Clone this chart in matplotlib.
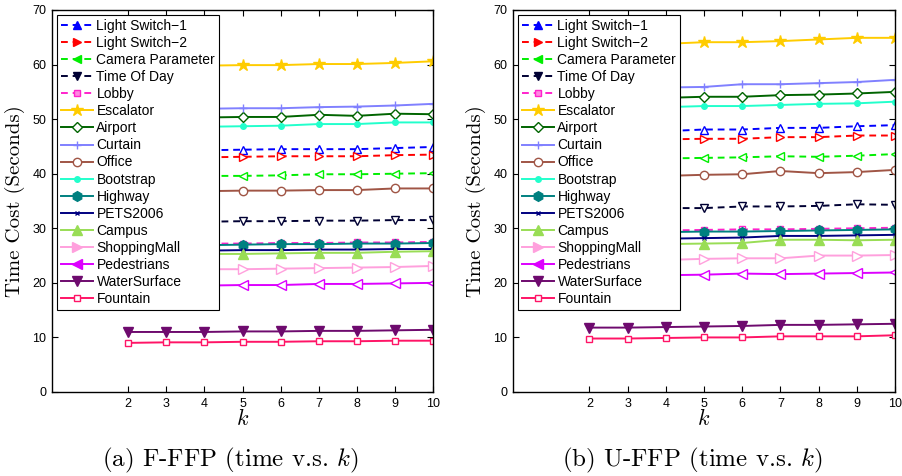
import matplotlib
matplotlib.use("Agg")
import matplotlib.pyplot as plt
from matplotlib.font_manager import FontProperties

plt.rcParams['mathtext.fontset'] = 'cm'
plt.rcParams['axes.unicode_minus'] = False

k = [2, 3, 4, 5, 6, 7, 8, 9, 10]
names = ["Light Switch\u22121", "Light Switch\u22122", "Camera Parameter", "Time Of Day",
         "Lobby", "Escalator", "Airport", "Curtain", "Office", "Bootstrap", "Highway",
         "PETS2006", "Campus", "ShoppingMall", "Pedestrians", "WaterSurface", "Fountain"]

ffp_ls1 = [44.1, 44.2, 44.3, 44.4, 44.5, 44.5, 44.5, 44.7, 44.9]
ffp_ls2 = [42.8, 42.9, 43.0, 43.1, 43.2, 43.2, 43.2, 43.4, 43.5]
ffp_cam = [39.4, 39.5, 39.6, 39.6, 39.7, 39.9, 39.9, 40.0, 40.1]
ffp_tod = [31.1, 31.2, 31.2, 31.3, 31.3, 31.4, 31.4, 31.5, 31.5]
ffp_lob = [27.1, 27.1, 27.2, 27.2, 27.3, 27.3, 27.4, 27.4, 27.5]
ffp_esc = [59.6, 59.7, 59.8, 59.9, 59.9, 60.1, 60.1, 60.3, 60.6]
ffp_air = [50.1, 50.2, 50.3, 50.4, 50.4, 50.8, 50.6, 51.0, 50.9]
ffp_cur = [51.7, 51.8, 51.9, 52.0, 52.0, 52.2, 52.3, 52.5, 52.8]
ffp_off = [36.6, 36.7, 36.8, 36.9, 36.9, 37.0, 37.0, 37.3, 37.3]
ffp_boo = [48.4, 48.5, 48.6, 48.7, 48.8, 49.1, 49.1, 49.4, 49.4]
ffp_hig = [26.8, 26.9, 26.9, 27.0, 27.1, 27.1, 27.2, 27.2, 27.3]
ffp_pet = [25.8, 25.9, 25.9, 26.0, 26.0, 26.1, 26.1, 26.2, 26.2]
ffp_cam2 = [25.2, 25.2, 25.3, 25.3, 25.4, 25.5, 25.5, 25.7, 25.8]
ffp_sho = [22.3, 22.4, 22.5, 22.5, 22.6, 22.7, 22.8, 22.9, 23.1]
ffp_ped = [19.4, 19.5, 19.5, 19.6, 19.6, 19.8, 19.8, 19.9, 20.0]
ffp_wat = [11.0, 11.0, 11.0, 11.1, 11.1, 11.2, 11.2, 11.3, 11.4]
ffp_fou = [9.0, 9.1, 9.1, 9.2, 9.2, 9.3, 9.3, 9.4, 9.4]

uffp_ls1 = [47.6, 47.7, 47.8, 48.1, 48.1, 48.4, 48.4, 48.7, 48.9]
uffp_ls2 = [46.1, 46.2, 46.3, 46.4, 46.4, 46.7, 46.7, 47.0, 47.0]
uffp_cam = [42.6, 42.7, 42.8, 42.9, 43.0, 43.2, 43.1, 43.3, 43.6]
uffp_tod = [33.5, 33.6, 33.7, 33.7, 34.0, 34.0, 34.1, 34.4, 34.3]
uffp_lob = [29.4, 29.5, 29.6, 29.7, 29.8, 29.8, 29.9, 30.0, 30.1]
uffp_esc = [63.5, 63.6, 63.8, 64.1, 64.1, 64.3, 64.6, 64.9, 64.9]
uffp_air = [53.7, 53.8, 53.9, 54.1, 54.1, 54.4, 54.5, 54.7, 55.0]
uffp_cur = [55.5, 55.6, 55.8, 55.9, 56.4, 56.4, 56.6, 56.8, 57.2]
uffp_off = [39.4, 39.5, 39.6, 39.8, 39.9, 40.5, 40.1, 40.3, 40.7]
uffp_boo = [52.0, 52.1, 52.2, 52.4, 52.4, 52.6, 52.8, 52.9, 53.2]
uffp_hig = [29.1, 29.2, 29.3, 29.4, 29.4, 29.5, 29.6, 29.7, 29.8]
uffp_pet = [28.0, 28.0, 28.1, 28.2, 28.3, 28.6, 28.6, 28.7, 28.8]
uffp_cam2 = [26.9, 27.0, 27.1, 27.2, 27.3, 27.9, 27.9, 27.8, 27.9]
uffp_sho = [24.0, 24.1, 24.2, 24.4, 24.5, 24.5, 25.0, 25.0, 25.1]
uffp_ped = [21.2, 21.3, 21.4, 21.5, 21.7, 21.6, 21.7, 21.8, 21.9]
uffp_wat = [11.8, 11.8, 11.9, 12.0, 12.1, 12.3, 12.3, 12.4, 12.5]
uffp_fou = [9.8, 9.8, 9.9, 10.0, 10.0, 10.2, 10.2, 10.2, 10.4]

ffp = [ffp_ls1, ffp_ls2, ffp_cam, ffp_tod, ffp_lob, ffp_esc, ffp_air, ffp_cur, ffp_off,
       ffp_boo, ffp_hig, ffp_pet, ffp_cam2, ffp_sho, ffp_ped, ffp_wat, ffp_fou]
uffp = [uffp_ls1, uffp_ls2, uffp_cam, uffp_tod, uffp_lob, uffp_esc, uffp_air, uffp_cur, uffp_off,
        uffp_boo, uffp_hig, uffp_pet, uffp_cam2, uffp_sho, uffp_ped, uffp_wat, uffp_fou]

dash = (0, (3.5, 2.5))
# (color, linestyle, marker, face in plot, face in legend, size)
styles = [
    ('#0000FF', dash, '^', 'white', '#0000FF', 6),
    ('#FF0000', dash, '>', 'white', '#FF0000', 6),
    ('#00EE00', dash, '<', 'white', '#00EE00', 6),
    ('#000033', dash, 'v', 'white', '#000033', 6),
    ('#FF22CC', dash, 's', 'white', '#FF88E0', 5),
    ('#FFCC00', '-', '*', '#FFCC00', '#FFCC00', 9),
    ('#006400', '-', 'D', 'white', 'white', 5),
    ('#8080FF', '-', '+', '#8080FF', '#8080FF', 6),
    ('#A05545', '-', 'o', 'white', 'white', 6),
    ('#22FFCC', '-', 'o', '#22FFCC', '#22FFCC', 4),
    ('#008080', '-', 'h', '#008080', '#008080', 7),
    ('#000080', '-', 'x', '#000080', '#000080', 3),
    ('#99DD55', '-', '^', '#99DD55', '#99DD55', 7),
    ('#FFA0DD', '-', '>', 'white', '#FFA0DD', 7),
    ('#DD00FF', '-', '<', 'white', '#DD00FF', 7),
    ('#6E0A6E', '-', 'v', '#6E0A6E', '#6E0A6E', 7),
    ('#FF1466', '-', 's', 'white', 'white', 5),
]

fig = plt.figure(figsize=(9.02, 4.76), dpi=100)
ax1 = fig.add_axes([52/902, 1 - 392/476, 381/902, 382/476])
ax2 = fig.add_axes([513/902, 1 - 392/476, 382/902, 382/476])

tickfp = FontProperties(family='Liberation Sans', size=9)
legfp = FontProperties(family='Liberation Sans', size=10)
for ax, data, cap, capx in [(ax1, ffp, "(a) F-FFP (time v.s. $k$)", 230),
                            (ax2, uffp, "(b) U-FFP (time v.s. $k$)", 692)]:
    for name, vals, st in zip(names, data, styles):
        col, ls, mk, mfc, lfc, ms = st
        ax.plot(k, vals, color=col, linestyle=ls, marker=mk,
                markerfacecolor=mfc, markeredgecolor=col, markersize=ms,
                linewidth=1.4, markeredgewidth=1.0, label=name)
    ax.set_xlim(0, 10)
    ax.set_ylim(0, 70)
    ax.set_xticks(k)
    ax.set_yticks(range(0, 71, 10))
    ax.tick_params(direction='in', top=True, right=True, length=4, width=0.8, pad=4)
    for lab in ax.get_xticklabels() + ax.get_yticklabels():
        lab.set_fontproperties(tickfp)
    for sp in ax.spines.values():
        sp.set_linewidth(1.0)
    ax.set_ylabel("Time Cost (Seconds)", family='cmr10', fontsize=15, labelpad=5)
    ax.set_xlabel("$k$", fontsize=16, labelpad=-1)
    leg = ax.legend(loc='upper left', prop=legfp,
                    frameon=True, fancybox=False, edgecolor='black', framealpha=1,
                    handlelength=2.3, handletextpad=0.25, labelspacing=0.22,
                    borderpad=0.3, borderaxespad=0.35)
    leg.get_frame().set_linewidth(0.8)
    for h, st in zip(leg.get_lines(), styles):
        h.set_markerfacecolor(st[4])
    fig.text(capx / 902, 1 - 460/476, cap, family='cmr10', fontsize=18,
             ha='center', va='center')

fig.savefig("out.png", dpi=100)
